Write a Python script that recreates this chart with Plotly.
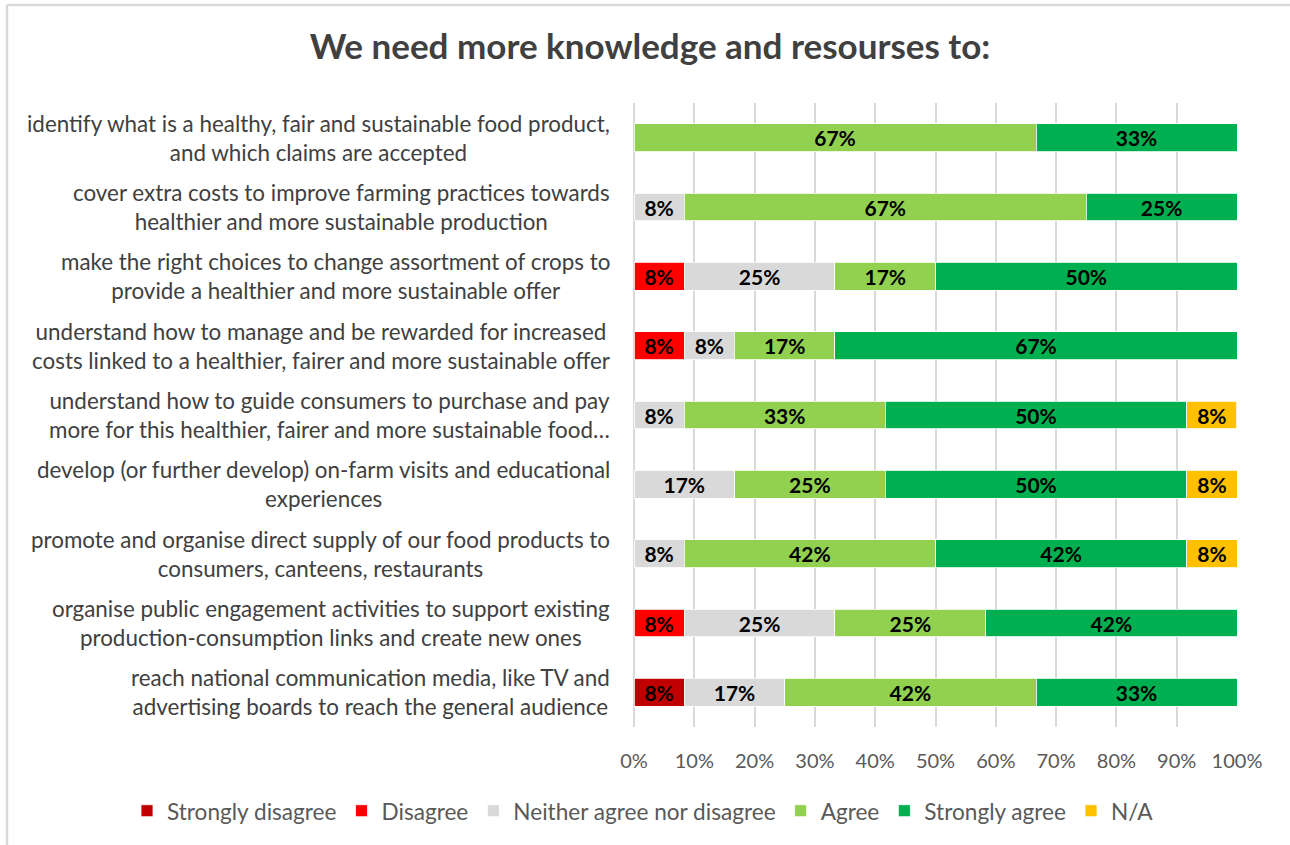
import plotly.graph_objects as go

# Survey statements (top to bottom)
statements = [
    "identify what is a healthy, fair and sustainable food product,<br>and which claims are accepted",
    "cover extra costs to improve farming practices towards<br>healthier and more sustainable production",
    "make the right choices to change assortment of crops to<br>provide a healthier and more sustainable offer",
    "understand how to manage and be rewarded for increased<br>costs linked to a healthier, fairer and more sustainable offer",
    "understand how to guide consumers to purchase and pay<br>more for this healthier, fairer and more sustainable food…",
    "develop (or further develop) on-farm visits and educational<br>experiences",
    "promote and organise direct supply of our food products to<br>consumers, canteens, restaurants",
    "organise public engagement activities to support existing<br>production-consumption links and create new ones",
    "reach national communication media, like TV and<br>advertising boards to reach the general audience",
]

# Share of respondents (%) per answer, same order as statements; None = no answers
strongly_disagree = [None, None, None, None, None, None, None, None, 8.33]
disagree = [None, None, 8.33, 8.33, None, None, None, 8.33, None]
neither = [None, 8.33, 25.0, 8.33, 8.33, 16.67, 8.33, 25.0, 16.67]
agree = [66.67, 66.67, 16.67, 16.67, 33.33, 25.0, 41.67, 25.0, 41.67]
strongly_agree = [33.33, 25.0, 50.0, 66.67, 50.0, 50.0, 41.67, 41.67, 33.33]
not_applicable = [None, None, None, None, 8.33, 8.33, 8.33, None, None]

x_ticks = [0, 10, 20, 30, 40, 50, 60, 70, 80, 90, 100]
x_tick_labels = ["0%", "10%", "20%", "30%", "40%", "50%", "60%", "70%", "80%", "90%", "100%"]

series = [
    ("Strongly disagree", strongly_disagree, "#C00000"),
    ("Disagree", disagree, "#FF0000"),
    ("Neither agree nor disagree", neither, "#D9D9D9"),
    ("Agree", agree, "#92D050"),
    ("Strongly agree", strongly_agree, "#00B050"),
    ("N/A", not_applicable, "#FFC000"),
]

FONT = "Lato"
TEXT_GREY = "#404040"

fig = go.Figure()
for name, values, color in series:
    fig.add_trace(go.Bar(
        y=statements,
        x=values,
        name=name,
        orientation="h",
        marker=dict(color=color, line=dict(color="white", width=0.8)),
        texttemplate="%{x:.0f}%",
        textposition="inside",
        insidetextanchor="middle",
        textfont=dict(family=FONT, size=21, color="black", weight="bold"),
        hovertemplate="%{x:.0f}%<extra>" + name + "</extra>",
    ))

# Category labels: right-aligned block, lines centred within it
for s in statements:
    fig.add_annotation(
        x=0, xref="paper", y=s, yref="y",
        text=s, showarrow=False,
        xanchor="right", yanchor="middle", xshift=-22,
        align="center",
        font=dict(family=FONT, size=22.4, color=TEXT_GREY),
    )

L, T, W, H = 634, 103, 603, 624

def px_x(p):
    return (p - L) / W

def px_y(p):
    return (T + H - p) / H

# Chart frame (top and left edges)
fig.add_shape(type="line", xref="paper", yref="paper",
              x0=px_x(7), x1=px_x(1290), y0=px_y(5), y1=px_y(5),
              line=dict(color="#D9D9D9", width=2.5))
fig.add_shape(type="line", xref="paper", yref="paper",
              x0=px_x(7), x1=px_x(7), y0=px_y(5), y1=px_y(845),
              line=dict(color="#D9D9D9", width=2.5))

fig.update_layout(
    width=1290, height=845,
    margin=dict(l=L, r=1290 - L - W, t=T, b=845 - T - H, autoexpand=False),
    barmode="stack",
    bargap=0.6,
    plot_bgcolor="white",
    paper_bgcolor="white",
    uniformtext=dict(minsize=19, mode="show"),
    title=dict(
        text="<b>We need more knowledge and resourses to:</b>",
        x=650 / 1290, xanchor="center", xref="container",
        y=1 - 47 / 845, yanchor="middle", yref="container",
        font=dict(family=FONT, size=35, color=TEXT_GREY),
    ),
    legend=dict(
        orientation="h",
        xref="paper", yref="paper",
        x=px_x(127), xanchor="left",
        y=px_y(811), yanchor="middle",
        font=dict(family=FONT, size=22.6, color="#595959"),
        traceorder="normal",
        itemwidth=30,
        bgcolor="rgba(0,0,0,0)",
    ),
    xaxis=dict(
        range=[0, 100],
        tickvals=x_ticks, ticktext=x_tick_labels,
        showgrid=True, gridcolor="#D9D9D9", gridwidth=1.5,
        zeroline=True, zerolinecolor="#D9D9D9", zerolinewidth=1.5,
        showline=False, ticks="",
        ticklabelstandoff=20,
        tickfont=dict(family=FONT, size=20, color="#595959"),
        fixedrange=True,
    ),
    yaxis=dict(
        autorange="reversed",
        showticklabels=False,
        showgrid=False, zeroline=False, showline=False, ticks="",
        fixedrange=True,
    ),
    showlegend=True,
)

fig.write_html("out.html")
